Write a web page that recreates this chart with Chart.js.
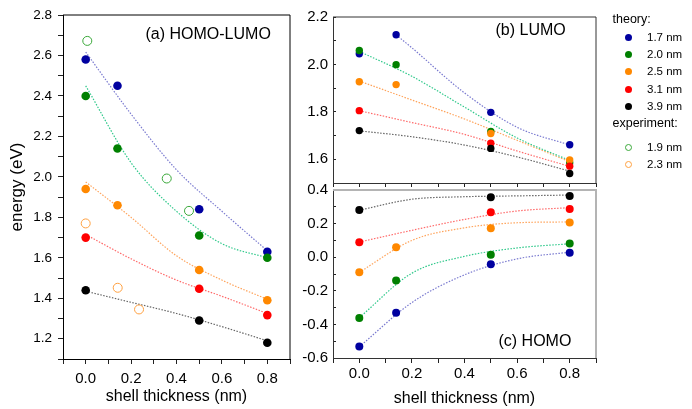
<!DOCTYPE html>
<html>
<head>
<meta charset="utf-8">
<script src="https://cdn.jsdelivr.net/npm/chart.js@4.4.0/dist/chart.umd.min.js"></script>
<style>
  body { margin: 0; background: #fff; font-family: Arial, "Liberation Sans", sans-serif; }
  #wrap { position: relative; width: 692px; height: 409px; overflow: hidden; }
  canvas { position: absolute; }
  .lbl { position: absolute; font-size: 16px; line-height: 1; color: #000; white-space: nowrap; }
  .leg { position: absolute; line-height: 1; color: #000; white-space: nowrap; }
  .dot { position: absolute; width: 7px; height: 7px; border-radius: 50%; box-sizing: border-box; }
</style>
</head>
<body>
<div id="wrap">
  <canvas id="gapChart" width="300" height="409" style="left:0;top:0"></canvas>
  <canvas id="lumoChart" width="300" height="200" style="left:300px;top:0"></canvas>
  <canvas id="homoChart" width="300" height="239" style="left:300px;top:170px"></canvas>
  <div class="lbl" style="left:145.5px;top:26px">(a) HOMO-LUMO</div>
  <div class="lbl" style="left:495.5px;top:21.5px">(b) LUMO</div>
  <div class="lbl" style="left:498.5px;top:332.5px">(c) HOMO</div>
  <div id="legend"></div>
</div>
<script>
// quantum dot core sizes
const sizeLabels = ['1.7 nm', '2.0 nm', '2.5 nm', '3.1 nm', '3.9 nm'];
const expLabels = ['1.9 nm', '2.3 nm'];

// shell thickness positions of the theory points
const shellX = [0.0, 0.14, 0.5, 0.8];

// (a) HOMO-LUMO gap, theory (null = no point)
const gap17 = [2.58, 2.45, 1.84, 1.63];
const gap20 = [2.40, 2.14, 1.71, 1.60];
const gap25 = [1.94, 1.86, 1.54, 1.39];
const gap31 = [1.70, null, 1.447, 1.317];
const gap39 = [1.44, null, 1.29, 1.18];

// (a) experiment
const exp19X = [0.007, 0.357, 0.455];
const exp19 = [2.672, 1.992, 1.832];
const exp23X = [0.0, 0.141, 0.235];
const exp23 = [1.77, 1.452, 1.345];

// (b) LUMO
const lumo17 = [2.045, 2.125, 1.798, 1.661];
const lumo20 = [2.059, 1.999, 1.717, 1.585];
const lumo25 = [1.927, 1.915, 1.709, 1.597];
const lumo31 = [1.805, null, 1.668, 1.571];
const lumo39 = [1.721, null, 1.646, 1.540];

// (c) HOMO
const homo17 = [-0.531, -0.33, -0.042, 0.027];
const homo20 = [-0.362, -0.139, 0.014, 0.081];
const homo25 = [-0.089, 0.059, 0.172, 0.206];
const homo31 = [0.089, null, 0.268, 0.287];
const homo39 = [0.281, null, 0.357, 0.365];

// dotted fit curves
const fitX = [0.0, 0.2, 0.4, 0.6, 0.8];
const fitXLumo17 = [0.14, 0.2, 0.4, 0.6, 0.8];
const fitGap17 = [2.617, 2.31, 2.035, 1.83, 1.635];
const fitGap20 = [2.45, 2.07, 1.83, 1.67, 1.60];
const fitGap25 = [1.975, 1.80, 1.61, 1.49, 1.395];
const fitGap31 = [1.715, 1.595, 1.49, 1.41, 1.325];
const fitGap39 = [1.435, 1.38, 1.325, 1.26, 1.19];
const fitLumo17 = [2.125, 2.07, 1.88, 1.735, 1.66];
const fitLumo20 = [2.055, 1.95, 1.82, 1.69, 1.595];
const fitLumo25 = [1.93, 1.85, 1.77, 1.68, 1.59];
const fitLumo31 = [1.805, 1.755, 1.705, 1.635, 1.57];
const fitLumo39 = [1.72, 1.695, 1.66, 1.61, 1.55];
const fitHomo17 = [-0.533, -0.27, -0.105, -0.01, 0.03];
const fitHomo20 = [-0.36, -0.095, 0.005, 0.055, 0.08];
const fitHomo25 = [-0.09, 0.10, 0.175, 0.205, 0.21];
const fitHomo31 = [0.09, 0.16, 0.225, 0.275, 0.295];
const fitHomo39 = [0.28, 0.345, 0.36, 0.365, 0.37];

const pointColors = ['#0000a0', '#008000', '#ff8800', '#ff0000', '#000000'];
const fitColors = ['#7b7bd0', '#2ec88a', '#ffa45c', '#ff6a6a', '#666666'];
const expColors = ['#3aa83a', '#ffa040'];
const FONT = 'Arial, "Liberation Sans", sans-serif';

function pts(xs, ys) {
  return xs.map((x, i) => ({ x: x, y: ys[i] })).filter(p => p.y !== null);
}

function evenLabel(v) {
  return Math.round(v * 10) % 2 === 0 ? (Math.round(v * 10) / 10).toFixed(1) : '';
}

// draws the top and right edges of the plot box
const framePlugin = {
  id: 'frame',
  beforeDatasetsDraw(chart, args, opts) {
    const { ctx, chartArea: a } = chart;
    ctx.save();
    ctx.strokeStyle = opts.color;
    ctx.lineWidth = opts.width;
    ctx.beginPath();
    ctx.moveTo(a.left, a.top);
    ctx.lineTo(a.right, a.top);
    ctx.lineTo(a.right, a.bottom);
    ctx.stroke();
    ctx.restore();
  }
};

function buildDatasets(theory, fits, fitXs, radius) {
  const sets = [];
  fits.forEach((f, i) => {
    sets.push({
      data: pts(fitXs[i], f),
      showLine: true,
      pointRadius: 0,
      borderColor: fitColors[i],
      borderWidth: 1.2,
      borderDash: [1.5, 1.5],
      cubicInterpolationMode: 'monotone',
      fill: false,
      order: 30
    });
  });
  theory.forEach((t, i) => {
    sets.push({
      data: pts(shellX, t),
      pointRadius: radius,
      pointBackgroundColor: pointColors[i],
      pointBorderColor: pointColors[i],
      pointBorderWidth: 0,
      order: 10 - i
    });
  });
  return sets;
}

function axis(cfg) {
  return {
    type: 'linear',
    min: cfg.min,
    max: cfg.max,
    offset: false,
    ticks: {
      stepSize: 0.1,
      autoSkip: false,
      maxRotation: 0,
      minRotation: 0,
      display: cfg.labels !== false,
      padding: cfg.pad,
      color: '#000',
      font: { family: FONT, size: cfg.fontSize || 15 },
      callback: evenLabel
    },
    grid: {
      display: true,
      drawOnChartArea: false,
      drawTicks: true,
      tickLength: cfg.tick,
      color: '#222',
      tickColor: '#222',
      tickWidth: 1
    },
    border: { display: true, color: cfg.borderColor || '#000', width: 1 },
    title: cfg.title ? {
      display: true,
      text: cfg.title,
      color: '#000',
      font: { family: FONT, size: cfg.titleSize || 16 },
      padding: cfg.titlePad
    } : { display: false },
    afterFit: cfg.fit
  };
}

function makeChart(id, datasets, padding, frame, xAxis, yAxis) {
  return new Chart(document.getElementById(id), {
    type: 'scatter',
    data: { datasets: datasets },
    options: {
      responsive: false,
      animation: false,
      devicePixelRatio: 1,
      layout: { padding: padding },
      plugins: { legend: { display: false }, tooltip: { enabled: false }, frame: frame },
      scales: { x: xAxis, y: yAxis }
    },
    plugins: [framePlugin]
  });
}

// (a) HOMO-LUMO
const gapSets = buildDatasets(
  [gap17, gap20, gap25, gap31, gap39],
  [fitGap17, fitGap20, fitGap25, fitGap31, fitGap39],
  [fitX, fitX, fitX, fitX, fitX], 4.3);
[[exp19X, exp19], [exp23X, exp23]].forEach(([xs, ys], i) => {
  gapSets.push({
    data: pts(xs, ys),
    pointRadius: 4.5,
    pointBackgroundColor: 'rgba(0,0,0,0)',
    pointBorderColor: expColors[i],
    pointBorderWidth: 1,
    order: 5
  });
});
makeChart('gapChart', gapSets, { left: 0, right: 10, top: 15, bottom: 0 }, { color: '#000', width: 1 },
  axis({ min: -0.1, max: 0.9, pad: 6, tick: 5, title: 'shell thickness (nm)', titlePad: { top: 0, bottom: 3 },
    fit: s => { s.height = 50; } }),
  axis({ min: 1.1, max: 2.8, pad: 6, tick: 5, fontSize: 13.5, title: 'energy (eV)', titleSize: 17,
    titlePad: { top: 7, bottom: 0 }, fit: s => { s.width = 63; } }));

// (b) LUMO
makeChart('lumoChart', buildDatasets(
  [lumo17, lumo20, lumo25, lumo31, lumo39],
  [fitLumo17, fitLumo20, fitLumo25, fitLumo31, fitLumo39],
  [fitXLumo17, fitX, fitX, fitX, fitX], 3.7),
  { left: 0, right: 3, top: 15, bottom: 0 }, { color: '#333', width: 1 },
  axis({ min: -0.1, max: 0.9, pad: 3, tick: 4, labels: false, borderColor: '#333', fit: s => { s.height = 17; } }),
  axis({ min: 1.5, max: 2.2, pad: 8, tick: -3, borderColor: '#333', fit: s => { s.width = 33; } }));

// (c) HOMO
makeChart('homoChart', buildDatasets(
  [homo17, homo20, homo25, homo31, homo39],
  [fitHomo17, fitHomo20, fitHomo25, fitHomo31, fitHomo39],
  [fitX, fitX, fitX, fitX, fitX], 4.0),
  { left: 0, right: 3, top: 20, bottom: 0 }, { color: '#b4b4b4', width: 2 },
  axis({ min: -0.1, max: 0.9, pad: 2, tick: 5, borderColor: '#333', title: 'shell thickness (nm)',
    titlePad: { top: 0, bottom: 1 }, fit: s => { s.height = 51; } }),
  axis({ min: -0.6, max: 0.4, pad: 8, tick: -3, borderColor: '#333', fit: s => { s.width = 33; } }));

// legend on the right
const legend = document.getElementById('legend');
function addText(text, left, top, size) {
  const d = document.createElement('div');
  d.className = 'leg';
  d.style.left = left + 'px';
  d.style.top = top + 'px';
  d.style.fontSize = size + 'px';
  d.textContent = text;
  legend.appendChild(d);
}
function addDot(cy, color, open) {
  const d = document.createElement('div');
  d.className = 'dot';
  d.style.left = (628.3 - 3.5) + 'px';
  d.style.top = (cy - 3.5) + 'px';
  if (open) d.style.border = '1px solid ' + color;
  else d.style.background = color;
  legend.appendChild(d);
}
addText('theory:', 612.5, 12.7, 12.5);
sizeLabels.forEach((s, i) => {
  const top = 32 + i * 17.2;
  addText(s, 647, top, 11.5);
  addDot(top + 5.4, pointColors[i], false);
});
addText('experiment:', 612.5, 116.7, 12.5);
expLabels.forEach((s, i) => {
  const top = 142 + i * 17.2;
  addText(s, 647, top, 11.5);
  addDot(top + 5.4, expColors[i], true);
});
</script>
</body>
</html>
